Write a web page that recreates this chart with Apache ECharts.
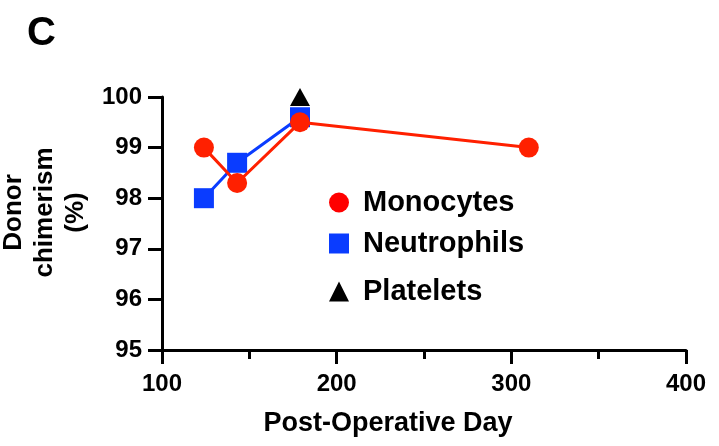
<!DOCTYPE html>
<html>
<head>
<meta charset="utf-8">
<script src="https://cdn.jsdelivr.net/npm/echarts@6/dist/echarts.min.js"></script>
<style>html,body{margin:0;padding:0;background:#fff}#c{width:719px;height:446px}</style>
</head>
<body>
<div id="c"></div>
<script>
const panelLabel = 'C';
const xTitle = 'Post-Operative Day';
const yTitle = 'Donor\nchimerism\n(%)';
const monocyteDays = [124, 143, 179, 310];
const monocyteValues = [99.0, 98.3, 99.5, 99.0];
const neutrophilDays = [124, 143, 179];
const neutrophilValues = [98.0, 98.7, 99.6];
const plateletDays = [179];
const plateletValues = [100.0];
const seriesNames = ['Monocytes', 'Neutrophils', 'Platelets'];

const FONT = '"Liberation Sans", Arial, Helvetica, sans-serif';
const RED = '#ff2000';
const BLUE = '#0a3cff';
const BLACK = '#000000';

function pairs(xs, ys) { return xs.map((x, i) => [x, ys[i]]); }

const chart = echarts.init(document.getElementById('c'), null, {renderer: 'canvas'});
const legendCommon = {
  orient: 'horizontal', left: 329, padding: 0, itemWidth: 20, itemHeight: 20, selectedMode: false,
  textStyle: {fontFamily: FONT, fontWeight: 'bold', fontSize: 29, color: '#000', padding: [0, 0, 0, 9]}
};
chart.setOption({
  animation: false,
  backgroundColor: '#fff',
  title: {text: panelLabel, left: 22, top: 9, textStyle: {fontFamily: FONT, fontWeight: 'bold', fontSize: 40, color: '#000'}},
  grid: {left: 162, right: 33, top: 97, bottom: 96, containLabel: false, outerBoundsMode: 'none'},
  legend: [
    Object.assign({}, legendCommon, {top: 188, data: [{name: seriesNames[0], icon: 'circle', itemStyle: {color: '#ff0000'}}]}),
    Object.assign({}, legendCommon, {top: 229, data: [{name: seriesNames[1], icon: 'rect'}]}),
    Object.assign({}, legendCommon, {top: 277, data: [{name: seriesNames[2], icon: 'triangle'}]})
  ],
  xAxis: {
    type: 'value', min: 100, max: 400, interval: 100,
    name: xTitle, nameLocation: 'middle', nameGap: 60,
    nameTextStyle: {fontFamily: FONT, fontWeight: 'bold', fontSize: 27, color: '#000', padding: [0, 72, 0, 0]},
    axisLine: {show: true, onZero: false, lineStyle: {color: '#000', width: 3}},
    axisTick: {show: true, length: 14, lineStyle: {color: '#000', width: 3}},
    minorTick: {show: true, splitNumber: 2, length: 9, lineStyle: {color: '#000', width: 3}},
    axisLabel: {margin: 22, fontFamily: FONT, fontWeight: 'bold', fontSize: 24, color: '#000'},
    splitLine: {show: false}
  },
  yAxis: {
    type: 'value', min: 95, max: 100, interval: 1,
    name: yTitle, nameLocation: 'middle', nameGap: 67, nameRotate: 90,
    nameTextStyle: {fontFamily: FONT, fontWeight: 'bold', fontSize: 26, color: '#000', lineHeight: 31, padding: [0, 0, 0, 22]},
    axisLine: {show: true, onZero: false, lineStyle: {color: '#000', width: 3}},
    axisTick: {show: true, length: 14, lineStyle: {color: '#000', width: 3}},
    axisLabel: {margin: 20, fontFamily: FONT, fontWeight: 'bold', fontSize: 24, color: '#000'},
    splitLine: {show: false}
  },
  series: [
    {name: seriesNames[1], type: 'line', data: pairs(neutrophilDays, neutrophilValues), symbol: 'rect', symbolSize: 20,
     itemStyle: {color: BLUE}, lineStyle: {color: BLUE, width: 3}, z: 2},
    {name: seriesNames[0], type: 'line', data: pairs(monocyteDays, monocyteValues), symbol: 'circle', symbolSize: 20,
     itemStyle: {color: RED}, lineStyle: {color: RED, width: 3}, z: 3},
    {name: seriesNames[2], type: 'line', data: pairs(plateletDays, plateletValues), symbol: 'triangle', symbolSize: [20, 18],
     itemStyle: {color: BLACK}, lineStyle: {color: BLACK, width: 3}, z: 4}
  ]
});
</script>
</body>
</html>
